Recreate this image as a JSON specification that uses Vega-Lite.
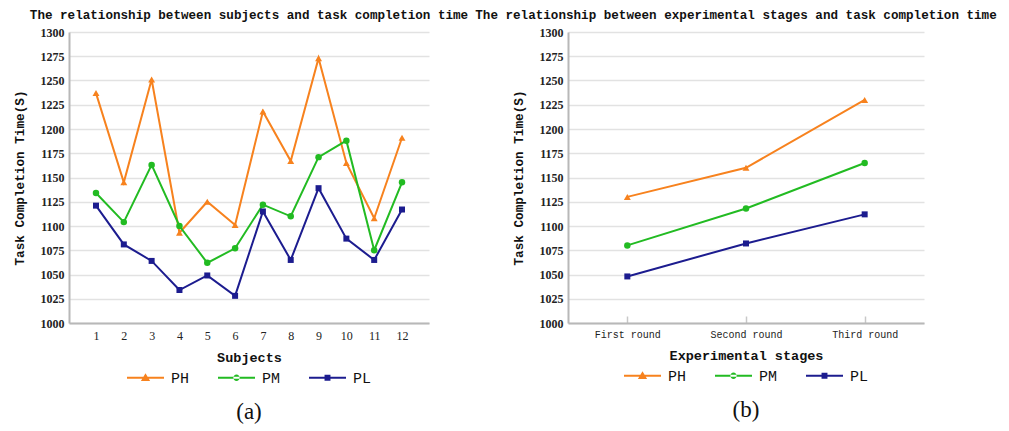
{
  "$schema": "https://vega.github.io/schema/vega-lite/v6.json",
  "background": "white",
  "padding": {"left": 13, "top": 9, "right": 0, "bottom": 0},
  "bounds": "flush",
  "spacing": 139,
  "datasets": {
    "subjects": [
      {"subject": 1, "series": "PH", "time": 1237}, {"subject": 2, "series": "PH", "time": 1145}, {"subject": 3, "series": "PH", "time": 1251},
      {"subject": 4, "series": "PH", "time": 1093}, {"subject": 5, "series": "PH", "time": 1125}, {"subject": 6, "series": "PH", "time": 1101},
      {"subject": 7, "series": "PH", "time": 1218}, {"subject": 8, "series": "PH", "time": 1167}, {"subject": 9, "series": "PH", "time": 1273},
      {"subject": 10, "series": "PH", "time": 1165}, {"subject": 11, "series": "PH", "time": 1108}, {"subject": 12, "series": "PH", "time": 1191},
      {"subject": 1, "series": "PM", "time": 1134}, {"subject": 2, "series": "PM", "time": 1104}, {"subject": 3, "series": "PM", "time": 1163},
      {"subject": 4, "series": "PM", "time": 1100}, {"subject": 5, "series": "PM", "time": 1062}, {"subject": 6, "series": "PM", "time": 1077},
      {"subject": 7, "series": "PM", "time": 1122}, {"subject": 8, "series": "PM", "time": 1110}, {"subject": 9, "series": "PM", "time": 1171},
      {"subject": 10, "series": "PM", "time": 1188}, {"subject": 11, "series": "PM", "time": 1075}, {"subject": 12, "series": "PM", "time": 1145},
      {"subject": 1, "series": "PL", "time": 1121}, {"subject": 2, "series": "PL", "time": 1081}, {"subject": 3, "series": "PL", "time": 1064},
      {"subject": 4, "series": "PL", "time": 1034}, {"subject": 5, "series": "PL", "time": 1049}, {"subject": 6, "series": "PL", "time": 1028},
      {"subject": 7, "series": "PL", "time": 1115}, {"subject": 8, "series": "PL", "time": 1065}, {"subject": 9, "series": "PL", "time": 1139},
      {"subject": 10, "series": "PL", "time": 1087}, {"subject": 11, "series": "PL", "time": 1065}, {"subject": 12, "series": "PL", "time": 1117}
    ],
    "stages": [
      {"stage": "First round", "series": "PH", "time": 1130}, {"stage": "Second round", "series": "PH", "time": 1160}, {"stage": "Third round", "series": "PH", "time": 1230},
      {"stage": "First round", "series": "PM", "time": 1080}, {"stage": "Second round", "series": "PM", "time": 1118}, {"stage": "Third round", "series": "PM", "time": 1165},
      {"stage": "First round", "series": "PL", "time": 1048}, {"stage": "Second round", "series": "PL", "time": 1082}, {"stage": "Third round", "series": "PL", "time": 1112}
    ]
  },
  "config": {
    "view": {"stroke": null},
    "axis": {
      "domainColor": "#b8b8b8", "domainWidth": 2,
      "gridColor": "#e2e2e2", "gridWidth": 1.5,
      "labelColor": "#222", "titleColor": "#111",
      "titleFont": "Liberation Mono", "titleFontWeight": "bold"
    },
    "axisY": {
      "ticks": false, "grid": true, "labelPadding": 5, "format": "d",
      "labelFont": "Liberation Serif", "labelFontWeight": "bold", "labelFontSize": 12,
      "titleFontSize": 12.7, "titlePadding": 14
    },
    "axisX": {"grid": false, "labelAngle": 0, "titleFontSize": 13.5},
    "title": {"font": "Liberation Mono", "fontSize": 12.6, "fontWeight": "bold", "color": "#111", "anchor": "middle", "offset": 4},
    "legend": {
      "orient": "bottom", "direction": "horizontal", "titleOrient": "bottom", "titleAnchor": "middle",
      "titleFont": "Liberation Serif", "titleFontSize": 23, "titleFontWeight": "normal", "titleColor": "#111", "titlePadding": 15,
      "labelFont": "Liberation Mono", "labelFontSize": 15, "labelColor": "#111", "labelOffset": 7,
      "symbolSize": 1369, "symbolOpacity": 1, "symbolStrokeWidth": 0, "columnPadding": 28, "offset": -5, "padding": 0,
      "layout": {"bottom": {"anchor": "middle"}}
    }
  },
  "hconcat": [
    {
      "title": {"text": "The relationship between subjects and task completion time"},
      "width": 360, "height": 291,
      "data": {"name": "subjects"},
      "encoding": {
        "x": {"field": "subject", "type": "ordinal", "title": "Subjects",
              "scale": {"type": "point", "padding": 0.97},
              "axis": {"ticks": false, "labelFont": "Liberation Serif", "labelFontSize": 12, "labelPadding": 7, "titlePadding": 9}},
        "y": {"field": "time", "type": "quantitative", "title": "Task Completion Time(S)",
              "scale": {"domain": [1000, 1300], "nice": false, "zero": false},
              "axis": {"values": [1000, 1025, 1050, 1075, 1100, 1125, 1150, 1175, 1200, 1225, 1250, 1275, 1300]}},
        "color": {"field": "series", "type": "nominal", "title": "\u00a0\u00a0(a)",
                  "scale": {"domain": ["PH", "PM", "PL"], "range": ["#f7821e", "#22bb22", "#1c1c8f"]}}
      },
      "layer": [
        {"mark": {"type": "line", "strokeWidth": 2}},
        {"transform": [{"filter": "datum.series === 'PH'"}], "mark": {"type": "point", "filled": true, "opacity": 1, "shape": "triangle-up", "size": 48}},
        {"transform": [{"filter": "datum.series === 'PM'"}], "mark": {"type": "point", "filled": true, "opacity": 1, "shape": "circle", "size": 42}},
        {"transform": [{"filter": "datum.series === 'PL'"}], "mark": {"type": "point", "filled": true, "opacity": 1, "shape": "square", "size": 36}},
        {"mark": {"type": "point", "filled": true, "opacity": 0},
         "encoding": {"shape": {"field": "series", "type": "nominal", "title": "\u00a0\u00a0(a)",
           "scale": {"domain": ["PH", "PM", "PL"], "range": [
             "M-1,-0.055H1V0.055H-1ZM0,-0.24L0.25,0.18L-0.25,0.18Z",
             "M-1,-0.055H1V0.055H-1ZM-0.17,0A0.17,0.17 0 1,0 0.17,0A0.17,0.17 0 1,0 -0.17,0Z",
             "M-1,-0.055H1V0.055H-1ZM-0.16,-0.16H0.16V0.16H-0.16Z"]}}}}
      ]
    },
    {
      "title": {"text": "The relationship between experimental stages and task completion time", "dx": -10},
      "width": 356, "height": 291,
      "data": {"name": "stages"},
      "encoding": {
        "x": {"field": "stage", "type": "ordinal", "title": "Experimental stages",
              "sort": ["First round", "Second round", "Third round"],
              "scale": {"type": "point", "padding": 0.5},
              "axis": {"ticks": true, "tickSize": -7, "tickColor": "#c8c8c8", "tickWidth": 1.5, "labelFont": "Liberation Mono", "labelFontSize": 10, "labelPadding": 13, "titlePadding": 9}},
        "y": {"field": "time", "type": "quantitative", "title": "Task Completion Time(S)",
              "scale": {"domain": [1000, 1300], "nice": false, "zero": false},
              "axis": {"values": [1000, 1025, 1050, 1075, 1100, 1125, 1150, 1175, 1200, 1225, 1250, 1275, 1300]}},
        "color": {"field": "series", "type": "nominal", "title": "\u00a0\u00a0\u00a0\u00a0\u00a0\u00a0(b)",
                  "scale": {"domain": ["PH", "PM", "PL"], "range": ["#f7821e", "#22bb22", "#1c1c8f"]}}
      },
      "layer": [
        {"mark": {"type": "line", "strokeWidth": 2}},
        {"transform": [{"filter": "datum.series === 'PH'"}], "mark": {"type": "point", "filled": true, "opacity": 1, "shape": "triangle-up", "size": 48}},
        {"transform": [{"filter": "datum.series === 'PM'"}], "mark": {"type": "point", "filled": true, "opacity": 1, "shape": "circle", "size": 42}},
        {"transform": [{"filter": "datum.series === 'PL'"}], "mark": {"type": "point", "filled": true, "opacity": 1, "shape": "square", "size": 36}},
        {"mark": {"type": "point", "filled": true, "opacity": 0},
         "encoding": {"shape": {"field": "series", "type": "nominal", "title": "\u00a0\u00a0\u00a0\u00a0\u00a0\u00a0(b)",
           "scale": {"domain": ["PH", "PM", "PL"], "range": [
             "M-1,-0.055H1V0.055H-1ZM0,-0.24L0.25,0.18L-0.25,0.18Z",
             "M-1,-0.055H1V0.055H-1ZM-0.17,0A0.17,0.17 0 1,0 0.17,0A0.17,0.17 0 1,0 -0.17,0Z",
             "M-1,-0.055H1V0.055H-1ZM-0.16,-0.16H0.16V0.16H-0.16Z"]}}}}
      ]
    }
  ],
  "resolve": {"scale": {"x": "independent", "y": "independent", "color": "independent", "shape": "independent"}, "legend": {"color": "independent", "shape": "independent"}}
}
